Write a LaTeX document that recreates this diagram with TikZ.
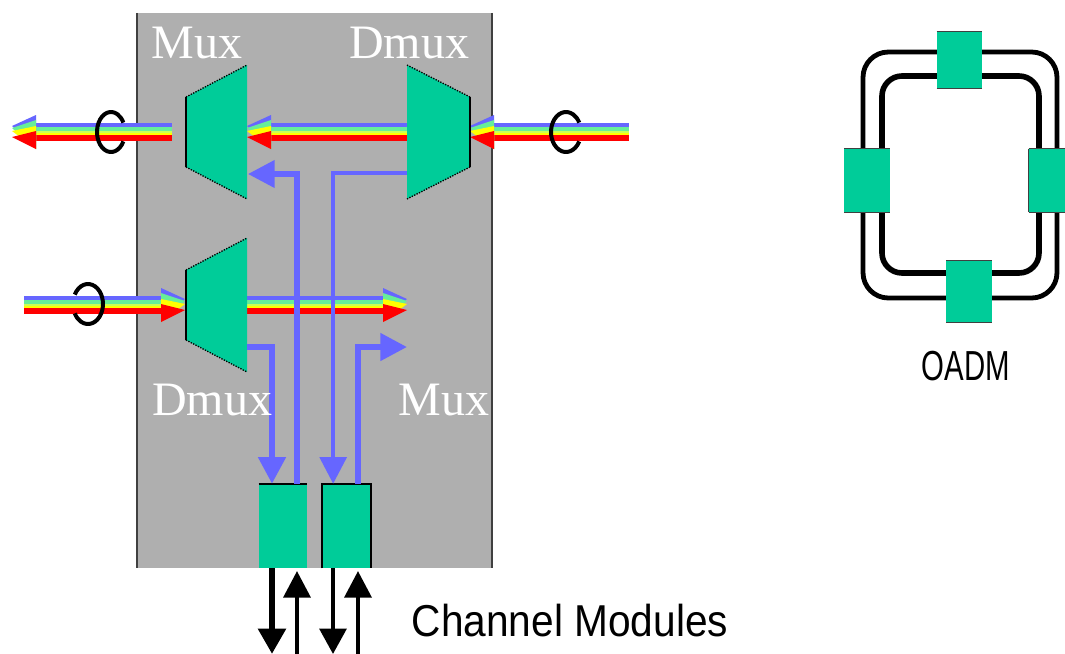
\documentclass[tikz,border=0pt]{standalone}
\usepackage{fontspec}
\usepackage{graphicx}
\setmainfont{Liberation Serif}
\setsansfont{Liberation Sans}
\usetikzlibrary{arrows.meta}

\definecolor{panelgray}{HTML}{AFAFAF}
\definecolor{panelline}{HTML}{404040}
\definecolor{modgreen}{HTML}{00CC99}
\definecolor{sigblue}{HTML}{6666FF}
\definecolor{bandgreen}{HTML}{66EE99}
\definecolor{bandlime}{HTML}{CCFF55}
\definecolor{bandyellow}{HTML}{FFFF00}
\definecolor{bandred}{HTML}{FF0000}

% striped fibre between two named points
\newcommand{\fibre}[2]{%
    \foreach \c/\a/\b in {sigblue/-9/-5, bandgreen/-5/-1, bandlime/-1/1, bandyellow/1/3, bandred/3/9}
        \fill[\c] ([shift={(0,\a)}]#1) rectangle ([shift={(0,\b)}]#2);
}
% striped head, #2 = 1 points left, #2 = -1 points right
\newcommand{\fibrehead}[2]{%
    \begin{scope}[shift={(#1)}, xscale=#2]
        \fill[sigblue] (0,-6) -- (24,-17) -- (24,17) -- cycle;
        \fill[bandgreen] (0,-4) -- (24,-12) -- (24,17) -- cycle;
        \fill[bandyellow] (0,-1) -- (24,-6) -- (24,17) -- cycle;
        \fill[bandred] (0,5) -- (24,-1) -- (24,17) -- cycle;
    \end{scope}
}
% trapezoid: narrow side x, wide side x, middle y
\newcommand{\trap}[3]{%
    \fill[modgreen] (#1,#3-35) -- (#2,#3-67) -- (#2,#3+67) -- (#1,#3+35) -- cycle;
    \draw[line width=1.1pt] (#1,#3-35) -- (#1,#3+35);
    \draw[densely dotted, line width=1pt] (#1,#3-35) -- (#2,#3-67);
    \draw[densely dotted, line width=1pt] (#1,#3+35) -- (#2,#3+67);
}

\begin{document}
\begin{tikzpicture}[
        x=0.75pt, y=-0.75pt,
        panel/.style={rectangle, fill=panelgray, minimum width=266pt, minimum height=416pt, inner sep=0pt},
        module/.style={rectangle, fill=modgreen, inner sep=0pt, minimum width=36pt, minimum height=63pt},
        ringbox/.style={rectangle, fill=modgreen, inner sep=0pt, minimum width=34pt},
        bluearrow/.style={-{Triangle[length=20pt, width=20pt]}, sigblue, line width=3pt},
        blackdown/.style={-{Triangle[length=19pt, width=20pt]}, black},
        blackup/.style={-{Triangle[length=20pt, width=20pt]}, black, line width=3.5pt},
        muxlabel/.style={text=white, font=\fontsize{36}{36}\selectfont},
        caption/.style={font=\sffamily\fontsize{33.5}{33.5}\selectfont},
        loopline/.style={line width=3pt}
    ]
    \useasboundingbox (0,0) rectangle (1065,654);

    % Panel
    \node[panel] (panel) at (314.5,290.5) {};
    \draw[panelline, line width=1.2pt] (panel.north west) -- (panel.south west);
    \draw[panelline, line width=1.2pt] (panel.north east) -- (panel.south east);

    % Head tips
    \coordinate (outtip) at (12,132);
    \coordinate (midtip) at (247,132);
    \coordinate (intip) at (470,132);
    \coordinate (lowtipa) at (185,305);
    \coordinate (lowtipb) at (407,305);

    % Fibre points
    \coordinate (outa) at (36,132);
    \coordinate (outb) at (172,132);
    \coordinate (mida) at (271,132);
    \coordinate (midb) at (407,132);
    \coordinate (ina) at (494,132);
    \coordinate (inb) at (629,132);
    \coordinate (lowa) at (24,305);
    \coordinate (lowb) at (161,305);
    \coordinate (lowc) at (247,305);
    \coordinate (lowd) at (383,305);

    % Fibres
    \fibre{outa}{outb}
    \fibre{mida}{midb}
    \fibre{ina}{inb}
    \fibre{lowa}{lowb}
    \fibre{lowc}{lowd}
    \fibrehead{outtip}{1}
    \fibrehead{midtip}{1}
    \fibrehead{intip}{1}
    \fibrehead{lowtipa}{-1}
    \fibrehead{lowtipb}{-1}

    % Loops
    \draw[loopline] (111,132) ++(28:14 and 20) arc (28:332:14 and 20);
    \draw[loopline] (566,132) ++(28:15 and 20) arc (28:332:15 and 20);
    \draw[loopline] (88,304) ++(-152:15 and 20) arc (-152:152:15 and 20);

    % Multiplexers
    \trap{186}{247}{132}
    \trap{470}{407}{132}
    \trap{186}{247}{305}

    % Channel modules
    \node[module] (moda) at (283,526) {};
    \node[module] (modb) at (346.5,526) {};
    \draw[line width=1.2pt] (moda.north west) -- (moda.north east);
    \draw[line width=1.2pt] (modb.south west) -- (modb.north west) -- (modb.north east) -- (modb.south east);

    % Tips of the blue lines
    \coordinate (tipa) at (248,174);
    \coordinate (tipb) at (407,347);
    \coordinate (srca) at (407,173);
    \coordinate (srcb) at (247,347);

    \draw[bluearrow, line width=3.8pt] ([xshift=10.5pt]moda.north) |- (tipa);
    \draw[bluearrow, line width=3pt] (srca) -| ([xshift=-10pt]modb.north);
    \draw[bluearrow, line width=4.4pt] (srcb) -| ([xshift=-8.25pt]moda.north);
    \draw[bluearrow, line width=4.2pt] ([xshift=8.5pt]modb.north) |- (tipb);

    % Channel arrows
    \coordinate (enda) at (272,654);
    \coordinate (endb) at (297,654);
    \coordinate (endc) at (333,654);
    \coordinate (endd) at (358,654);
    \draw[blackdown, line width=5pt] (moda.south -| enda) -- (enda);
    \draw[blackup] (endb) -- (297,571);
    \draw[blackdown, line width=3pt] (modb.south -| endc) -- (endc);
    \draw[blackup] (endd) -- (358,571);

    % Labels
    \node[muxlabel] (lmuxa) at (197,43) {Mux};
    \node[muxlabel] (ldmuxa) at (409,43) {Dmux};
    \node[muxlabel] (ldmuxb) at (212,400) {Dmux};
    \node[muxlabel] (lmuxb) at (444,400) {Mux};
    \node[caption] (lchan) at (570,621) {\scalebox{0.91}[1]{Channel Modules}};

    % Ring
    \draw[line width=3.6pt, rounded corners=19pt] (863,52) rectangle (1057,298);
    \draw[line width=4.2pt, rounded corners=15pt] (882,76) rectangle (1039,273);
    \node[ringbox, minimum height=42pt] (top) at (959.5,60) {};
    \node[ringbox, minimum height=47pt] (left) at (867,180.5) {};
    \node[ringbox, minimum width=27pt, minimum height=47pt] (right) at (1047,180.5) {};
    \node[ringbox, minimum height=46pt] (bottom) at (969,291.5) {};
    \foreach \n in {top,left,right,bottom} {
        \draw[panelline, line width=0.8pt] (\n.north west) -- (\n.north east);
        \draw[panelline, line width=0.8pt] (\n.south west) -- (\n.south east);
    }
    \draw[panelline, line width=0.8pt] (right.north west) -- (right.south west);
    \node[caption, font=\sffamily\fontsize{31.5}{31.5}\selectfont] (loadm) at (966,366) {\scalebox{0.7}[1]{OADM}};
\end{tikzpicture}
\end{document}
